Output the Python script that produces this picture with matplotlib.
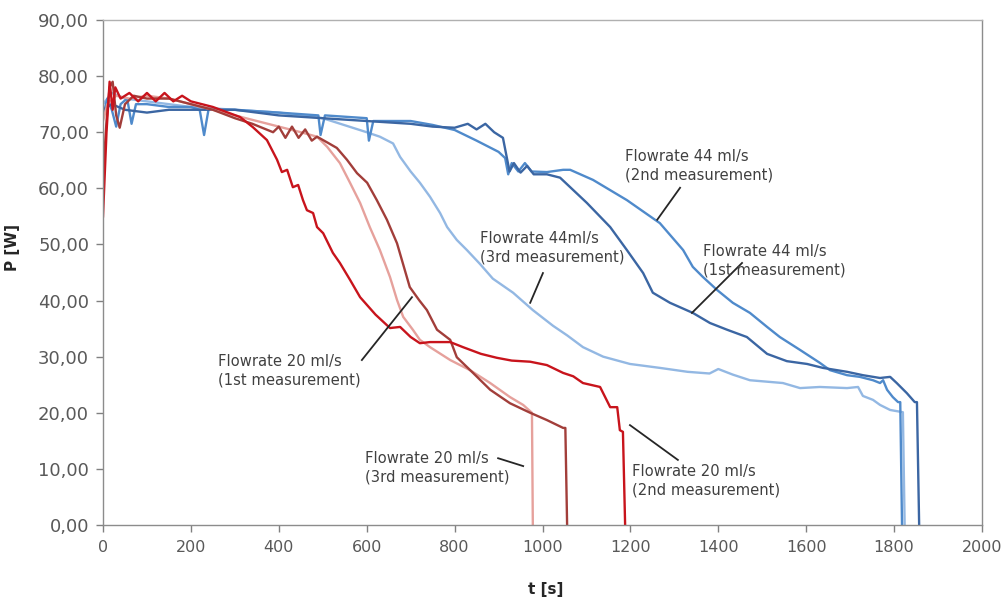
import numpy as np
import matplotlib.pyplot as plt
from matplotlib.ticker import FuncFormatter

# Flowrate 44 ml/s, 3rd measurement (light blue)
t_44_3 = [0, 20, 50, 100, 200, 300, 400, 500, 560, 600, 630, 660, 676, 700, 721, 744, 767, 783,
          805, 828, 858, 887, 933, 978, 1024, 1056, 1092, 1138, 1199, 1267, 1330, 1380, 1400,
          1433, 1472, 1547, 1586, 1631, 1693, 1718, 1729, 1752, 1768, 1791, 1820, 1824]
p_44_3 = [75, 77, 76, 75.5, 74.5, 74, 73.5, 72.5, 71, 70, 69.2, 68, 65.6, 63, 61, 58.5, 55.6, 53.1,
          50.8, 49, 46.5, 43.9, 41.4, 38.3, 35.5, 33.8, 31.7, 30, 28.7, 28.0, 27.3, 27, 27.8,
          26.8, 25.8, 25.3, 24.4, 24.6, 24.4, 24.6, 23.0, 22.3, 21.4, 20.5, 20.1, 0]

# Flowrate 44 ml/s, 2nd measurement (medium blue)
t_44_2 = [0, 10, 20, 30, 40, 55, 65, 75, 100, 150, 200, 220, 230, 240, 300, 400, 490, 495, 505,
          600, 605, 615, 650, 700, 750, 800, 850, 900, 915, 922, 930, 945, 960, 975, 1010, 1047,
          1063, 1115, 1192, 1267, 1320, 1342, 1365, 1397, 1433, 1472, 1511, 1540, 1586, 1631,
          1654, 1693, 1722, 1752, 1768, 1775, 1784, 1797, 1809, 1814, 1818]
p_44_2 = [73, 76, 74, 71, 75, 76, 71.5, 75, 75, 74.5, 74.5, 74, 69.5, 74, 74, 73.5, 73, 69.5, 73,
          72.5, 68.5, 72, 72, 72, 71.3, 70.4, 68.5, 66.5, 65.4, 62.5, 64.5, 63, 64.5, 63, 62.9, 63.3,
          63.3, 61.5, 57.9, 53.8, 49, 46, 44.2, 41.9, 39.6, 37.8, 35.3, 33.5, 31.2, 28.9,
          27.6, 26.7, 26.4, 25.8, 25.3, 25.8, 24.1, 22.8, 21.9, 21.9, 0]

# Flowrate 44 ml/s, 1st measurement (dark blue)
t_44_1 = [0, 20, 50, 100, 150, 200, 300, 400, 500, 600, 700, 750, 800, 830, 850, 870, 890, 910,
          920, 925, 935, 950, 965, 980, 1010, 1040, 1101, 1154, 1192, 1229, 1251, 1290, 1342,
          1381, 1420, 1465, 1511, 1556, 1602, 1638, 1693, 1729, 1768, 1791, 1806, 1829, 1847,
          1852, 1857]
p_44_1 = [74, 75, 74, 73.5, 74, 74, 74, 73, 72.5, 72, 71.5, 71, 70.8, 71.5, 70.5, 71.5, 70, 69,
          65, 63, 64.5, 62.8, 64, 62.5, 62.5, 61.9, 57.4, 53.1, 49, 44.9, 41.4, 39.6, 37.8,
          36, 34.8, 33.5, 30.5, 29.2, 28.7, 28.0, 27.3, 26.7, 26.2, 26.4, 25.3, 23.5, 21.9,
          21.9, 0]

# Flowrate 20 ml/s, 3rd measurement (pink)
t_20_3 = [0, 10, 30, 60, 100, 150, 200, 250, 300, 350, 400, 450, 487, 510, 539, 562, 585, 607,
          630, 653, 669, 683, 705, 721, 744, 790, 835, 881, 926, 956, 976, 978]
p_20_3 = [72, 75, 76.5, 76, 76.5, 76, 75, 74, 73, 72, 71, 70, 69.2, 67.4, 64.5, 61, 57.4, 53.1,
          49, 44.2, 40.1, 37.1, 34.8, 33, 31.7, 29.4, 27.6, 25.3, 22.8, 21.4, 20.0, 0]

# Flowrate 20 ml/s, 1st measurement (dark red)
t_20_1 = [0, 8, 15, 22, 30, 38, 50, 70, 100, 150, 200, 250, 300, 340, 387, 400, 415, 430, 445,
          460, 475, 487, 512, 532, 555, 578, 601, 623, 646, 669, 698, 720, 737, 760, 790, 805,
          842, 881, 926, 972, 1010, 1047, 1052, 1056]
p_20_1 = [62, 72, 78, 79, 73, 70.8, 75, 76.5, 76, 76, 75, 74, 72.5, 71.5, 70, 71, 69, 71, 69,
          70.5, 68.5, 69.2, 68.1, 67.2, 65.1, 62.7, 61.0, 57.9, 54.4, 50.2, 42.4, 40, 38.3, 34.8,
          33.0, 29.9, 27.1, 24.1, 21.7, 20.0, 18.7, 17.3, 17.3, 0]

# Flowrate 20 ml/s, 2nd measurement (bright red)
t_20_2 = [0, 8, 15, 22, 28, 40, 60, 80, 100, 120, 140, 160, 180, 200, 250, 312, 341, 373, 396,
          407, 419, 432, 444, 455, 464, 478, 487, 501, 523, 539, 562, 585, 620, 653, 676, 700,
          721, 744, 790, 819, 860, 896, 930, 972, 1010, 1047, 1070, 1092, 1131, 1154, 1170,
          1176, 1183, 1188]
p_20_2 = [55, 70, 79, 74, 78, 76, 77, 75.5, 77, 75.5, 77, 75.5, 76.5, 75.5, 74.5, 72.7, 70.9,
          68.6, 65.1, 62.9, 63.3, 60.2, 60.6, 57.9, 56.1, 55.6, 53.1, 52.0, 48.5, 46.7, 43.7,
          40.6, 37.5, 35.1, 35.3, 33.5, 32.4, 32.6, 32.6, 31.7, 30.5, 29.8, 29.3, 29.1, 28.5,
          27.1, 26.5, 25.3, 24.6, 21.0, 21.0, 16.9, 16.6, 0]

SERIES = [
    (t_44_3, p_44_3, '#93B8E3'),
    (t_44_2, p_44_2, '#4F8ACB'),
    (t_44_1, p_44_1, '#3B66A3'),
    (t_20_3, p_20_3, '#E6A19C'),
    (t_20_1, p_20_1, '#A23E3A'),
    (t_20_2, p_20_2, '#C8141C'),
]

# label text, text anchor (t, P), leader line start and end
LABELS = [
    ("Flowrate 44 ml/s\n(2nd measurement)", (1188, 67.0), (1313, 60.1), (1261, 54.4)),
    ("Flowrate 44 ml/s\n(1st measurement)", (1365, 50.1), (1454, 46.7), (1340, 37.8)),
    ("Flowrate 44ml/s\n(3rd measurement)", (858, 52.4), (1001, 44.9), (972, 39.6)),
    ("Flowrate 20 ml/s\n(1st measurement)", (262, 30.5), (703, 40.6), (589, 29.4)),
    ("Flowrate 20 ml/s\n(3rd measurement)", (596, 13.2), (899, 11.9), (956, 10.5)),
    ("Flowrate 20 ml/s\n(2nd measurement)", (1204, 10.9), (1199, 17.8), (1308, 11.6)),
]

fig = plt.figure(figsize=(10.06, 6.05), dpi=100)
ax = fig.add_axes([103 / 1006, 1 - 525 / 605, 879 / 1006, 505 / 605])

for t, p, c in SERIES:
    ax.plot(t, p, '-', color=c, lw=1.7)

for text, (tx, ty), (x0, y0), (x1, y1) in LABELS:
    ax.text(tx, ty, text, ha='left', va='top', fontsize=10.6, color='#404040',
            linespacing=1.3)
    ax.plot([x0, x1], [y0, y1], '-', color='#262626', lw=1.3)

ax.set_xlim(0, 2000)
ax.set_ylim(0, 90)
ax.set_xticks(np.arange(0, 2001, 200))
ax.set_yticks(np.arange(0, 91, 10))
ax.yaxis.set_major_formatter(FuncFormatter(lambda v, _: f"{v:.2f}".replace('.', ',')))
ax.tick_params(axis='both', direction='out', length=5, width=1, color='#808080',
               labelcolor='#595959', labelsize=11.5, pad=6)
ax.tick_params(axis='y', labelsize=13, pad=5)
for s in ax.spines.values():
    s.set_color('#8c8c8c')
    s.set_linewidth(1)
ax.spines['top'].set_color('#b0b0b0')

ax.set_xlabel("t [s]", fontsize=11, fontweight='bold', color='#262626')
ax.set_ylabel("P [W]", fontsize=11, fontweight='bold', color='#262626')
ax.xaxis.set_label_coords(0.504, -0.112)
ax.yaxis.set_label_coords(-0.094, 0.55)

fig.savefig("out.png", dpi=100)
